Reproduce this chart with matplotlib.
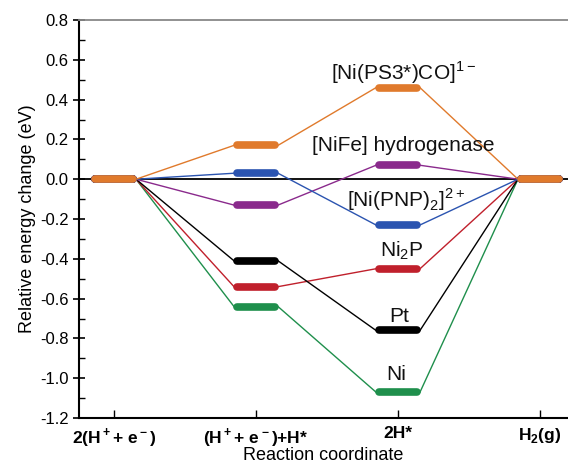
import matplotlib
matplotlib.use("Agg")
import matplotlib.pyplot as plt
from matplotlib.ticker import MultipleLocator, FormatStrFormatter

plt.rcParams["font.family"] = ["Liberation Sans", "DejaVu Sans"]
plt.rcParams["mathtext.fontset"] = "custom"
plt.rcParams["mathtext.rm"] = "Liberation Sans"
plt.rcParams["mathtext.bf"] = "Liberation Sans:bold"
plt.rcParams["axes.unicode_minus"] = False

# reaction steps
steps = [r"2(H$^{\bf +}$+ e$^{\bf -}$)", r"(H$^{\bf +}$+ e$^{\bf -}$)+H*", "2H*", r"H$_{\bf 2}$(g)"]

# energies (eV) of each catalyst along the steps
e_ps3 = [0.0, 0.17, 0.46, 0.0]
e_pnp = [0.0, 0.03, -0.23, 0.0]
e_nife = [0.0, -0.13, 0.07, 0.0]
e_pt = [0.0, -0.41, -0.76, 0.0]
e_ni2p = [0.0, -0.54, -0.45, 0.0]
e_ni = [0.0, -0.64, -1.07, 0.0]

series = [
    (e_ni, "#1f8f4c", "Ni", (1.99, -1.01)),
    (e_ni2p, "#c0202c", r"Ni$_2$P", (2.03, -0.387)),
    (e_pt, "#000000", "Pt", (2.01, -0.72)),
    (e_nife, "#8a2a8c", "[NiFe] hydrogenase", (2.04, 0.14)),
    (e_pnp, "#2b54b0", r"[Ni(PNP)$_2$]$^{2+}$", (2.06, -0.14)),
    (e_ps3, "#e07a2c", r"[Ni(PS3*)CO]$^{1-}$", (2.04, 0.497)),
]

fig = plt.figure(figsize=(5.68, 4.70), dpi=100)
ax = fig.add_axes([79 / 568, 52 / 470, 1 - 79 / 568, 398 / 470])

hw = 0.135   # half width of level bars
gap = 0.155  # where connectors meet the bars

ax.axhline(0, color="black", lw=1.3, zorder=1)

for vals, col, name, (tx, ty) in series:
    for i in range(len(vals) - 1):
        ax.plot([i + gap, i + 1 - gap], [vals[i], vals[i + 1]], color=col, lw=1.0, zorder=2)
    for i, v in enumerate(vals):
        ax.plot([i - hw, i + hw], [v, v], color=col, lw=5.5, solid_capstyle="round", zorder=3)
    ax.text(tx, ty, name, ha="center", va="baseline", fontsize=15, color="#111111")

ax.set_xlim(-35 / 142, (568 - 114) / 142)
ax.set_ylim(-1.2, 0.8)

ax.set_xticks(range(len(steps)))
ax.set_xticklabels(steps, fontweight="bold", fontsize=12.5)
ax.tick_params(axis="x", direction="in", length=6, width=1.0, pad=6)

ax.yaxis.set_major_locator(MultipleLocator(0.2))
ax.yaxis.set_minor_locator(MultipleLocator(0.1))
ax.yaxis.set_major_formatter(FormatStrFormatter("%.1f"))
ax.tick_params(axis="y", which="major", direction="inout", length=8, width=1.2, labelsize=12)
ax.tick_params(axis="y", which="minor", direction="in", length=4, width=1.0)

ax.spines["right"].set_visible(False)
ax.spines["top"].set_color("#888888")
ax.spines["top"].set_linewidth(1.3)
ax.spines["left"].set_linewidth(1.5)
ax.spines["bottom"].set_linewidth(1.5)

ax.set_ylabel("Relative energy change (eV)", fontsize=13, labelpad=3)
ax.set_xlabel("Reaction coordinate", fontsize=13, labelpad=-2)

fig.savefig("out.png", dpi=100)
